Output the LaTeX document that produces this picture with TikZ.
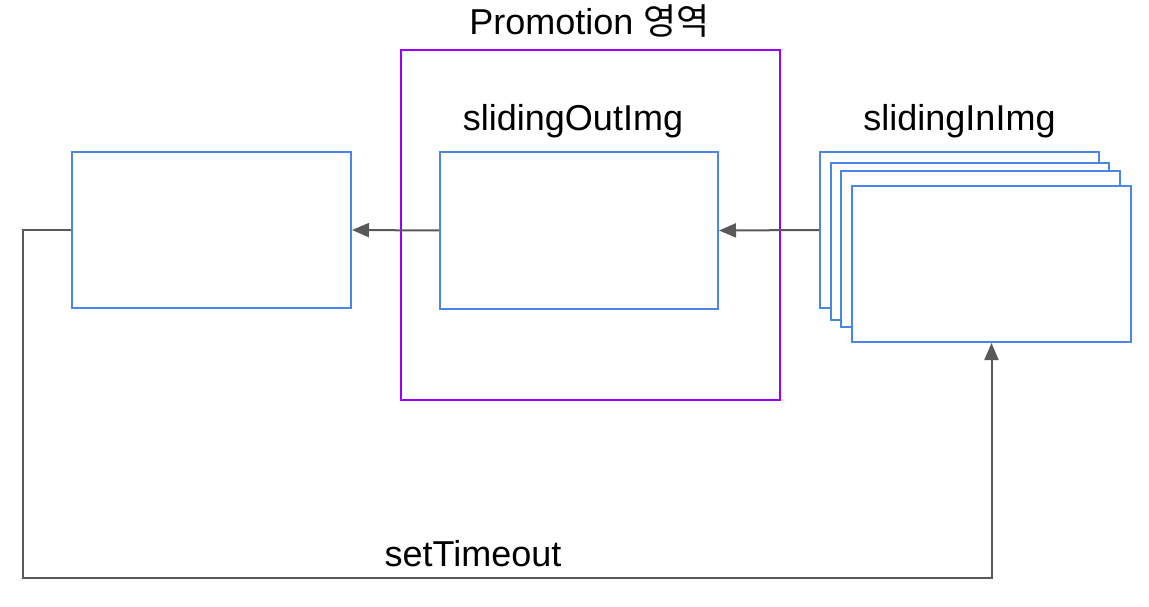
\documentclass[tikz,border=0pt]{standalone}
\usepackage{fontspec}
\setmainfont{Liberation Sans}
\newfontfamily\krfont{Noto Sans CJK KR}
\usetikzlibrary{arrows.meta}
\definecolor{boxblue}{HTML}{4A86E8}
\definecolor{areapurple}{HTML}{9900FF}
\definecolor{linegray}{HTML}{595959}
\begin{document}
\begin{tikzpicture}[x=1pt,y=-1pt,
  imgbox/.style={draw=boxblue,line width=2pt,fill=white,inner sep=0pt,minimum width=279pt,minimum height=156pt},
  conn/.style={draw=linegray,line width=2pt,-{Triangle[length=17pt,width=14pt]}},
  lbl/.style={font=\fontsize{36}{40}\selectfont,inner sep=0pt,anchor=base}]
\useasboundingbox (0,0) rectangle (1149,607);
% promotion area
\node[draw=areapurple,line width=2pt,inner sep=0pt,minimum width=379pt,minimum height=350pt] (area) at (590.5,225) {};
\node[lbl] (areatitle) at (589.5,35) {Promotion {\krfont 영역}};
% boxes
\node[imgbox] (left) at (211.5,230) {};
\node[imgbox,minimum width=278pt,minimum height=157pt] (out) at (579,230.5) {};
\node[lbl] (outlbl) at (573,130.5) {slidingOutImg};
\node[imgbox] (in1) at (959.5,230) {};
\node[imgbox,minimum width=278pt,minimum height=157pt] (in2) at (970,241.5) {};
\node[imgbox] (in3) at (980.5,249) {};
\node[imgbox] (in4) at (991.5,264) {};
\node[lbl] (inlbl) at (959.5,130.5) {slidingInImg};
% connectors
\draw[conn] (out.west) -- (left.east);
\draw[conn] (in1.west) -- (out.east);
\coordinate (c1) at (23,230);
\coordinate (c2) at (23,578);
\coordinate (c3) at (in4.south |- c2);
\draw[conn] (left.west) -- (c1) -- (c2) -- (c3) -- (in4.south);
\node[lbl] (timeout) at (473,566) {setTimeout};
\end{tikzpicture}
\end{document}
